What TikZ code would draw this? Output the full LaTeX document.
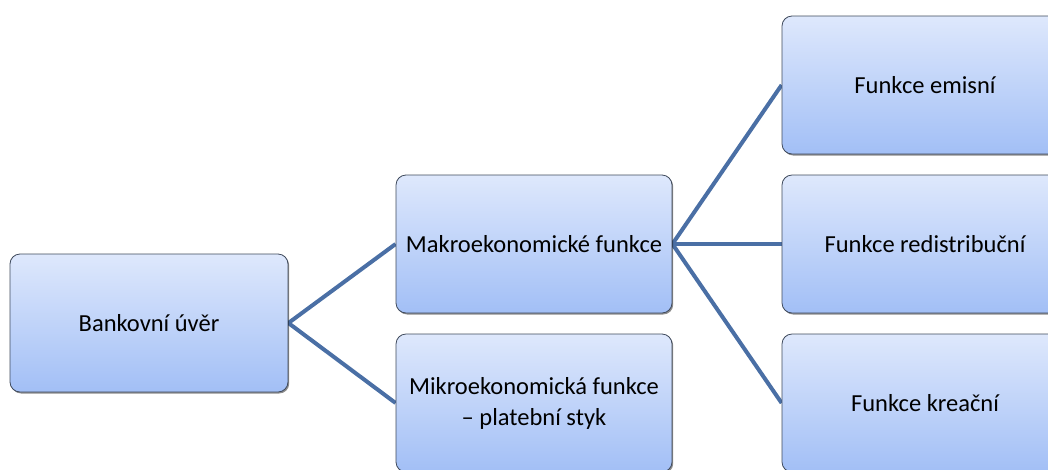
\documentclass[tikz,border=0pt]{standalone}
\usepackage{fontspec}
\setmainfont{Carlito}
\usetikzlibrary{backgrounds,shadows}
\definecolor{boxtop}{HTML}{DEE8FC}
\definecolor{boxbot}{HTML}{A2BFF6}
\definecolor{boxedge}{HTML}{3F4A5C}
\definecolor{linkcol}{HTML}{4A6FA5}
\tikzset{
  fbox/.style={draw=boxedge, line width=0.8pt, rounded corners=10pt,
    top color=boxtop, bottom color=boxbot, minimum height=138pt,
    align=center, font=\fontsize{24.5}{31}\selectfont,
    drop shadow={shadow xshift=1.2pt, shadow yshift=-1.5pt, opacity=0.45, fill=black}},
  link/.style={draw=linkcol, line width=4pt}
}
\begin{document}
\begin{tikzpicture}[x=1pt,y=-1pt]
\useasboundingbox (0,0) rectangle (1048,469);
\clip (0,0) rectangle (1048,469);
\node[fbox, minimum width=278pt] (bank) at (149,323) {Bankovní úvěr};
\node[fbox, minimum width=276pt] (makro) at (534,244) {Makroekonomické funkce};
\node[fbox, minimum width=276pt] (mikro) at (534,403) {Mikroekonomická funkce\\– platební styk};
\node[fbox, minimum width=286pt] (emis) at (925,85) {Funkce emisní};
\node[fbox, minimum width=286pt] (redis) at (925,244) {Funkce redistribuční};
\node[fbox, minimum width=286pt] (krea) at (925,403) {Funkce kreační};
\begin{scope}[on background layer]
\draw[link] (bank.east) -- (makro.west);
\draw[link] (bank.east) -- (mikro.west);
\draw[link] (makro.east) -- (emis.west);
\draw[link] (makro.east) -- (redis.west);
\draw[link] (makro.east) -- (krea.west);
\end{scope}
\end{tikzpicture}
\end{document}
